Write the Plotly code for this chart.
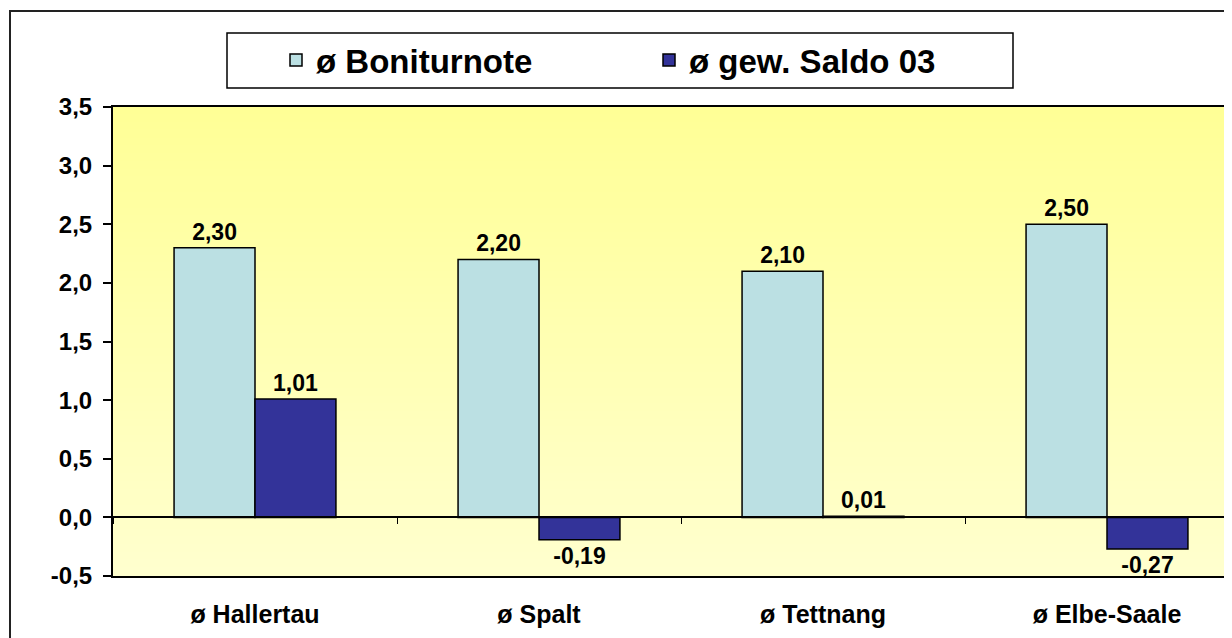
import plotly.graph_objects as go

# ---- data ----
regions = ["ø Hallertau", "ø Spalt", "ø Tettnang", "ø Elbe-Saale"]
bonitur = [2.30, 2.20, 2.10, 2.50]
saldo = [1.01, -0.19, 0.01, -0.27]
series_names = ["ø Boniturnote", "ø gew. Saldo 03"]
y_ticks = [-0.5, 0.0, 0.5, 1.0, 1.5, 2.0, 2.5, 3.0, 3.5]
y_tick_labels = ["-0,5", "0,0", "0,5", "1,0", "1,5", "2,0", "2,5", "3,0", "3,5"]

# ---- layout geometry (pixels, in screen coordinates; page has an 8px body margin) ----
OFF = 8
W, H = 1232 - OFF, 638 - OFF
L, T = 113 - OFF, 107 - OFF
PLOT_BOTTOM = 576 - OFF
R, B = 0, H - PLOT_BOTTOM
pw, ph = W - L - R, H - T - B
FONT = "Liberation Sans, Arial, sans-serif"
BW = 0.285
CAT_PX = 284

def px2paper_x(px):
    return (px - OFF - L) / pw

def px2paper_y(py):
    return (PLOT_BOTTOM - (py - OFF)) / ph

fig = go.Figure()
fig.add_trace(go.Bar(
    x=regions, y=bonitur, name=series_names[0],
    marker=dict(color="#BBE0E3", line=dict(color="#000000", width=1.5)),
    width=BW, offset=-BW,
    texttemplate="%{y:.2f}", textposition="outside", cliponaxis=False,
    textfont=dict(family=FONT, size=23, color="#000000", weight="bold"),
    xaxis="x", yaxis="y",
))
fig.add_trace(go.Bar(
    x=regions, y=saldo, name=series_names[1],
    marker=dict(color="#333399", line=dict(color="#000000", width=1.5)),
    width=BW, offset=0,
    texttemplate="%{y:.2f}", textposition="outside", cliponaxis=False,
    textfont=dict(family=FONT, size=23, color="#000000", weight="bold"),
    xaxis="x2", yaxis="y",
))

# gradient background for plot area
shapes = []
n = 60
top = (255, 255, 150)
bot = (255, 255, 206)
for i in range(n):
    t = i / (n - 1)
    c = tuple(round(top[k] + (bot[k] - top[k]) * t) for k in range(3))
    shapes.append(dict(
        type="rect", xref="x domain", yref="y domain",
        x0=0, x1=1, y0=1 - (i + 1) / n, y1=1 - i / n + 0.002,
        fillcolor="rgb(%d,%d,%d)" % c, line=dict(width=0), layer="below",
    ))
# outer chart border
shapes.append(dict(
    type="rect", xref="paper", yref="paper",
    x0=px2paper_x(10), x1=px2paper_x(1300), y0=px2paper_y(700), y1=px2paper_y(11),
    line=dict(color="#222222", width=2), fillcolor="rgba(0,0,0,0)", layer="below",
))
# legend box
shapes.append(dict(
    type="rect", xref="paper", yref="paper",
    x0=px2paper_x(227), x1=px2paper_x(1013), y0=px2paper_y(88), y1=px2paper_y(33),
    line=dict(color="#000000", width=1.5), fillcolor="#FFFFFF", layer="above",
))

fig.update_layout(
    width=W, height=H,
    margin=dict(l=L, r=R, t=T, b=B, pad=0),
    paper_bgcolor="#FFFFFF", plot_bgcolor="#FFFFCC",
    separators=",.",
    font=dict(family=FONT, size=24, color="#000000", weight="bold"),
    showlegend=True,
    legend=dict(
        orientation="h", x=px2paper_x(276), y=px2paper_y(32),
        xanchor="left", yanchor="top",
        font=dict(family=FONT, size=33, color="#000000", weight="bold"),
        bgcolor="rgba(0,0,0,0)", borderwidth=0,
        entrywidth=328, entrywidthmode="pixels", itemwidth=30,
    ),
    shapes=shapes,
    xaxis=dict(
        type="category", range=[-0.5, 3.5 - (113 + 4 * CAT_PX - 1232) / CAT_PX],
        showline=True, linecolor="#000000", linewidth=2, mirror=True,
        ticks="", showgrid=False, zeroline=False,
        ticklabelstandoff=15,
        tickfont=dict(family=FONT, size=25, color="#000000", weight="bold"),
    ),
    xaxis2=dict(
        type="category", matches="x", overlaying="x", anchor="free",
        position=(0 - (-0.5)) / 4.0,
        showline=True, linecolor="#000000", linewidth=1.5,
        ticks="outside", ticklen=6, tickwidth=1, tickcolor="#000000",
        tickson="boundaries", showticklabels=False, showgrid=False, zeroline=False,
    ),
    yaxis=dict(
        range=[-0.5, 3.5], tickmode="array", tickvals=y_ticks, ticktext=y_tick_labels,
        showline=True, linecolor="#000000", linewidth=2,
        ticks="outside", ticklen=8, tickwidth=1.5, tickcolor="#000000",
        ticklabelstandoff=6,
        showgrid=False, zeroline=False,
        tickfont=dict(family=FONT, size=24, color="#000000", weight="bold"),
    ),
    bargap=0.43,
)

fig.write_html("out.html")
